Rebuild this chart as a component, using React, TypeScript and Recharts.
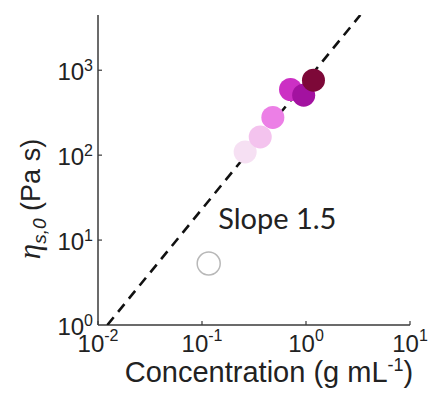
import React from 'react';
import { ScatterChart, Scatter, XAxis, YAxis } from 'recharts';

// measured samples (g/mL vs Pa s)
const concentration = [0.116, 0.26, 0.363, 0.48, 0.71, 0.95, 1.18];
const viscosity = [5.3, 109, 164, 278, 593, 508, 763];
const pointFills = ['#ffffff', '#f6e0f3', '#f4c3ee', '#ec7fe6', '#cc30c4', '#a312a0', '#7d0838'];
const pointStrokes = ['#b8b8b8', 'none', 'none', 'none', 'none', 'none', 'none'];

// slope 1.5 guide line end points
const fitX = [0.0123, 3.33];
const fitY = [1, 4470];

const xTicks = [0.01, 0.1, 1, 10];
const xTickExp = ['-2', '-1', '0', '1'];
const yTicks = [1, 10, 100, 1000];
const yTickExp = ['0', '1', '2', '3'];

const slopeLabelX = [0.53];
const slopeLabelY = [17];

const points = concentration.map((c, i) => ({
  x: c,
  y: viscosity[i],
  fill: pointFills[i],
  stroke: pointStrokes[i],
}));
const fitLine = fitX.map((x, i) => ({ x, y: fitY[i] }));
const slopeLabel = slopeLabelX.map((x, i) => ({ x, y: slopeLabelY[i] }));

const AXIS = '#3a3a3a';
const SANS = '"Liberation Sans", Arial, sans-serif';

const XTick = ({ x, y, payload }: any) => {
  const i = xTicks.indexOf(payload.value);
  return (
    <g>
      <line x1={x} x2={x} y1={y} y2={y - 4} stroke={AXIS} strokeWidth={1.2} />
      <text x={x} y={y + 27} textAnchor="middle" fontFamily={SANS} fontSize={24} fill="#222">
        10<tspan dy={-11} fontSize={16}>{xTickExp[i]}</tspan>
      </text>
    </g>
  );
};

const YTick = ({ x, y, payload }: any) => {
  const i = yTicks.indexOf(payload.value);
  return (
    <g>
      {i > 0 && <line x1={x} x2={x + 4} y1={y} y2={y} stroke={AXIS} strokeWidth={1.2} />}
      <text x={x - 5} y={y + 10} textAnchor="end" fontFamily={SANS} fontSize={24} fill="#222">
        10<tspan dy={-9} fontSize={16}>{yTickExp[i]}</tspan>
      </text>
    </g>
  );
};

const Bubble = (props: any) => {
  const { cx, cy, payload } = props;
  return (
    <circle
      cx={cx}
      cy={cy}
      r={11.5}
      fill={payload.fill}
      stroke={payload.stroke}
      strokeWidth={payload.stroke === 'none' ? 0 : 1.5}
    />
  );
};

const SlopeText = (props: any) => (
  <text x={props.cx} y={props.cy + 8} textAnchor="middle" fontFamily="Lato, sans-serif" fontSize={29} fill="#222">
    Slope 1.5
  </text>
);

export default function App() {
  return (
    <div style={{ position: 'absolute', left: 0, top: 0, background: '#fff' }}>
      <ScatterChart width={431} height={393} margin={{ top: 15, right: 21, bottom: 0, left: 0 }}>
        <XAxis
          type="number"
          dataKey="x"
          scale="log"
          domain={[0.01, 10]}
          ticks={xTicks}
          allowDataOverflow
          height={68}
          stroke={AXIS}
          strokeWidth={1.5}
          tickLine={false}
          tickSize={0}
          tickMargin={0}
          tick={<XTick />}
          label={{
            content: ({ viewBox }: any) => (
              <text
                x={viewBox.x + viewBox.width / 2 + 15}
                y={viewBox.y + 57}
                textAnchor="middle"
                fontFamily={SANS}
                fontSize={29}
                fill="#222"
              >
                Concentration (g mL<tspan dy={-11} fontSize={18}>-1</tspan>
                <tspan dy={11}>)</tspan>
              </text>
            ),
          }}
        />
        <YAxis
          type="number"
          dataKey="y"
          scale="log"
          domain={[1, 4470]}
          ticks={yTicks}
          allowDataOverflow
          width={98}
          stroke={AXIS}
          strokeWidth={1.5}
          tickLine={false}
          tickSize={0}
          tickMargin={0}
          tick={<YTick />}
          label={{
            content: ({ viewBox }: any) => {
              const cx = 40;
              const cy = viewBox.y + viewBox.height / 2 + 29;
              return (
                <text
                  x={cx}
                  y={cy}
                  transform={`rotate(-90 ${cx} ${cy})`}
                  textAnchor="middle"
                  fontFamily={SANS}
                  fontSize={27}
                  fill="#222"
                >
                  <tspan fontFamily='"Liberation Serif", serif' fontStyle="italic" fontSize={31}>η</tspan>
                  <tspan dy={6} fontSize={19} fontStyle="italic">s,0</tspan>
                  <tspan dy={-6}> (Pa s)</tspan>
                </text>
              );
            },
          }}
        />
        <Scatter
          data={fitLine}
          line={{ stroke: '#111', strokeWidth: 2.6, strokeDasharray: '10 7' }}
          shape={() => <g />}
          isAnimationActive={false}
        />
        <Scatter data={points} shape={<Bubble />} isAnimationActive={false} />
        <Scatter data={slopeLabel} shape={<SlopeText />} isAnimationActive={false} />
      </ScatterChart>
    </div>
  );
}
